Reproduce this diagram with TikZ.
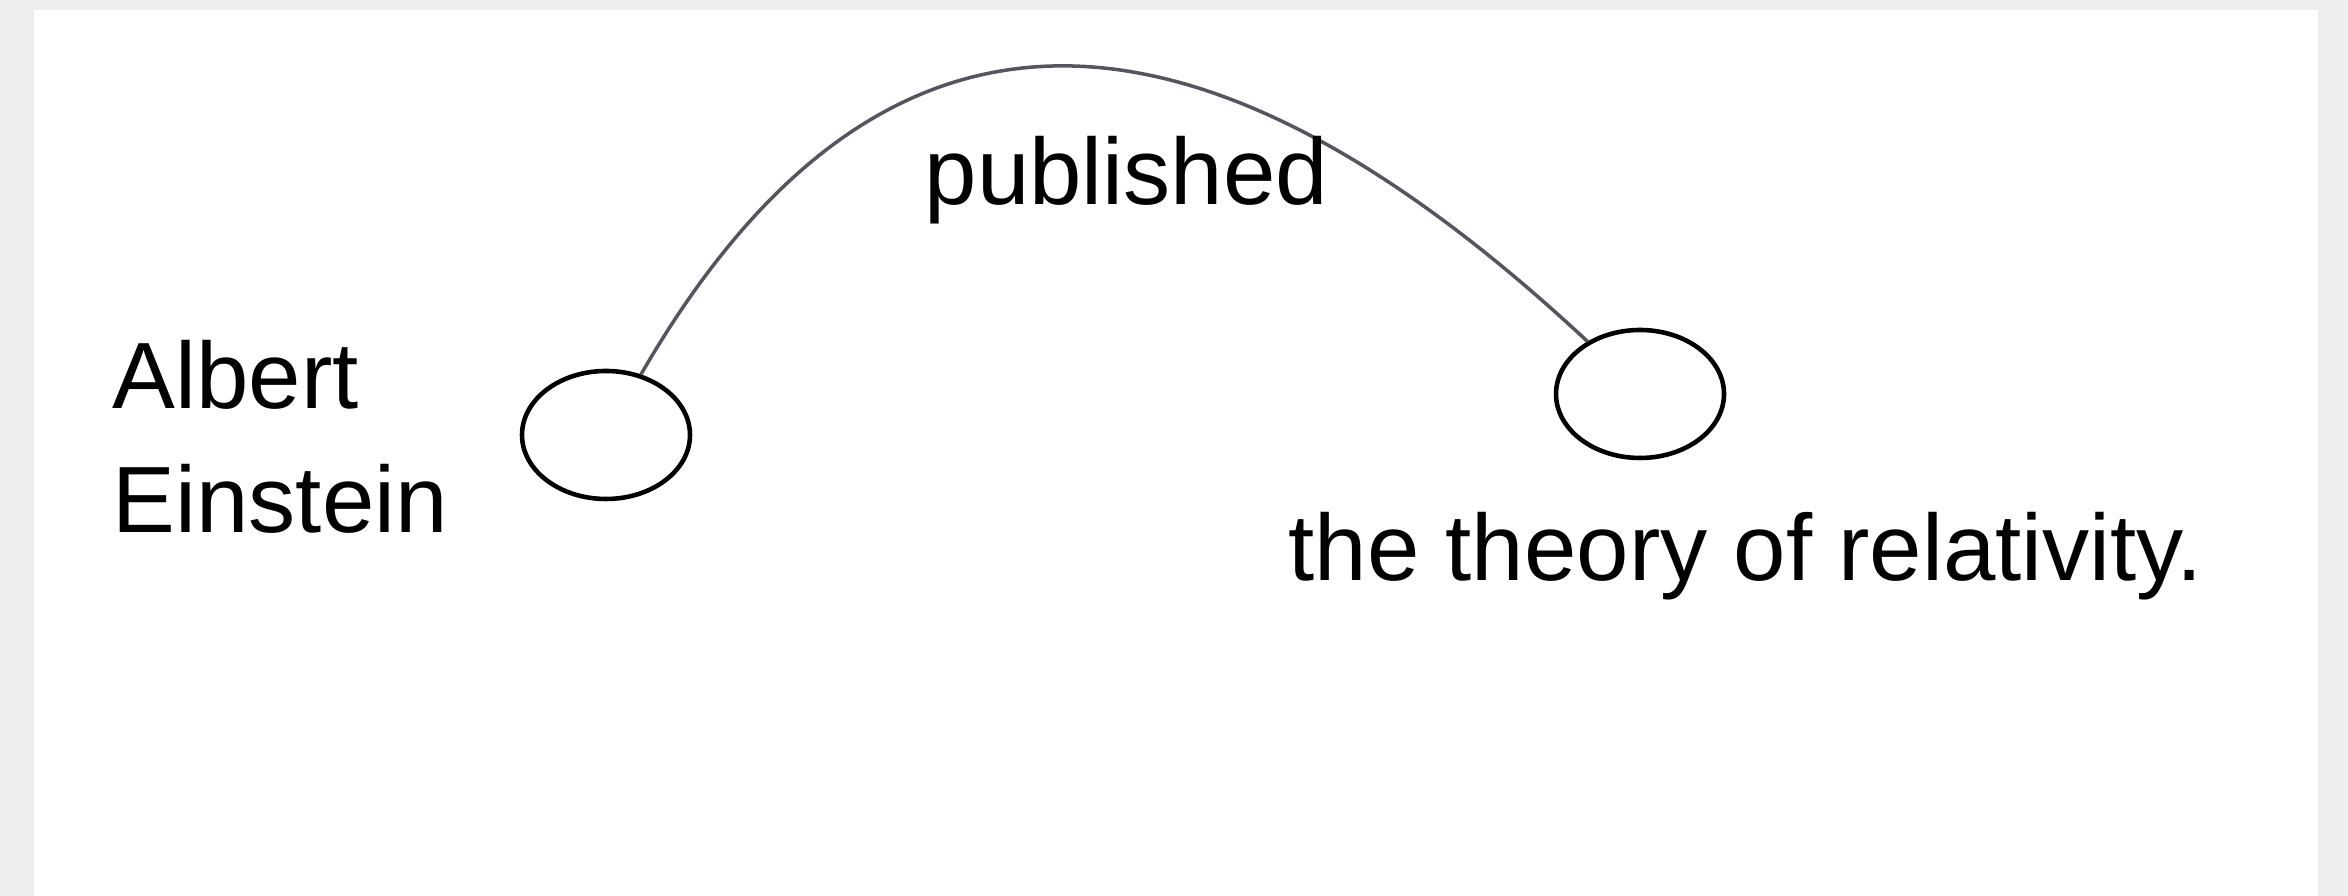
\documentclass[tikz,border=0pt]{standalone}
\usepackage{fontspec}
\setmainfont{Liberation Sans}
\usepackage{tikz}
\usetikzlibrary{shapes.geometric}
\usepackage{xcolor}
\definecolor{SlideGray}{HTML}{eceef0}
\definecolor{ArcGray}{HTML}{55555e}

\begin{document}
\begin{tikzpicture}[
   entity/.style={draw,ellipse,line width=1.3pt,minimum width=1.68cm,minimum height=1.28cm,inner sep=0pt},
   word/.style={font=\fontsize{26.8}{35.3}\selectfont,inner sep=0pt,anchor=base west}]
   \useasboundingbox (0,0) rectangle (23.48,8.96);
   \fill[SlideGray] (0,0) rectangle (23.48,8.96);
   \fill[white] (0.34,0) rectangle (23.18,8.86);

   \node[entity] (einstein) at (6.06,4.61) {};
   \node[entity] (relativity) at (16.40,5.02) {};
   \node[word,align=left] (subject) at (1.12,3.63) {Albert\\Einstein};
   \node[word] (object) at (12.88,3.15) {the theory of relativity.};

   \draw[ArcGray,line width=1pt] (einstein.60) .. controls +(60:5.2) and +(137:4.8) .. (relativity.135);
   \node[word] (predicate) at (9.24,6.91) {published};
\end{tikzpicture}
\end{document}
